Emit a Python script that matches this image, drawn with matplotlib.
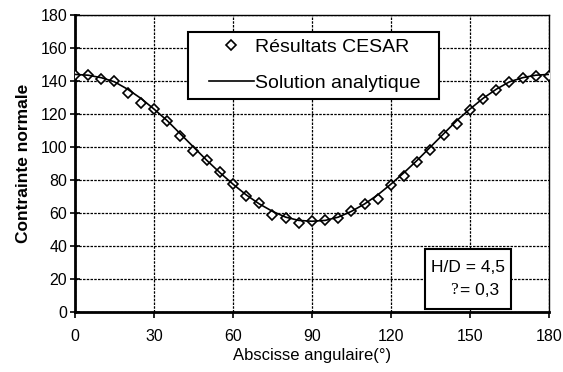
import matplotlib.pyplot as plt
from matplotlib.patches import Rectangle

plt.rcParams['font.family'] = ['Liberation Sans', 'DejaVu Sans']

# angles (deg) and CESAR results
angles = [0, 5, 10, 15, 20, 25, 30, 35, 40, 45, 50, 55, 60, 65, 70, 75, 80, 85, 90,
          95, 100, 105, 110, 115, 120, 125, 130, 135, 140, 145, 150, 155, 160, 165, 170, 175, 180]
cesar = [143.6, 143.6, 141.4, 140.0, 132.9, 126.5, 122.8, 116.0, 106.7, 97.6, 92.0, 85.0, 77.4,
         70.0, 65.9, 58.8, 57.2, 54.1, 55.3, 55.8, 57.2, 61.4, 65.5, 68.3, 77.0, 82.6, 91.0,
         98.2, 107.3, 113.9, 122.4, 128.9, 134.5, 139.6, 142.0, 143.2, 143.2]
# analytical solution, same angles
analytique = [144, 143.5, 142, 139.5, 135, 129.5, 123, 116, 108, 100, 92, 84.5, 77.5,
              71, 65.5, 61, 57.5, 55.5, 55, 55.5, 57.5, 61, 65.5, 71, 77.5, 84.5, 92,
              100, 108, 116, 123, 129.5, 135, 139.5, 142, 143.5, 144]

xticks = [0, 30, 60, 90, 120, 150, 180]
yticks = [0, 20, 40, 60, 80, 100, 120, 140, 160, 180]

fig = plt.figure(figsize=(5.63, 3.72), dpi=100)
ax = fig.add_axes([0.1332, 0.1613, 0.975 - 0.1332, 0.9597 - 0.1613])

ax.plot(angles, cesar, linestyle='none', marker='D', ms=4.6, mfc='white',
        mec='black', mew=1.2, label='Résultats CESAR', zorder=3)
ax.plot(angles, analytique, color='black', lw=1.2, label='Solution analytique', zorder=4)

ax.set_xlim(0, 180)
ax.set_ylim(0, 180)
ax.set_xticks(xticks)
ax.set_yticks(yticks)
ax.grid(True, color='black', linestyle=(0, (2, 1)), linewidth=0.9)
ax.set_axisbelow(True)

for s in ['left', 'bottom']:
    ax.spines[s].set_linewidth(2)
for s in ['top', 'right']:
    ax.spines[s].set_linewidth(1)
ax.tick_params(axis='y', direction='inout', length=7, width=1.2, labelsize=11.5, pad=2)
ax.tick_params(axis='x', direction='out', length=4, width=1.2, labelsize=11.5, pad=8)

ax.set_xlabel('Abscisse angulaire(°)', fontsize=12, labelpad=3)
ax.set_ylabel('Contrainte normale', fontsize=12.5, fontweight='bold', labelpad=7)

# legend frame drawn by hand (wider side padding than matplotlib's)
ax.add_patch(Rectangle((0.2384, 0.717), 0.5296, 0.226, transform=ax.transAxes,
                       fc='white', ec='black', lw=1.5, zorder=7))
leg = ax.legend(loc='center left', bbox_to_anchor=(0.2827, 0.8316), fontsize=14,
                frameon=False, handlelength=2.3, labelspacing=0.95, borderpad=0,
                handletextpad=0.05, borderaxespad=0)
leg.set_zorder(8)

# parameter box
ax.add_patch(Rectangle((132.9, 1.8), 32.7, 36.4, fc='white', ec='black', lw=1.5,
                       zorder=5, clip_on=False))
ax.text(149.3, 26.7, 'H/D = 4,5', ha='center', va='center', fontsize=12.5, zorder=6)
ax.text(144.0, 13.6, '?', ha='center', va='center', fontsize=12.5,
        family='Liberation Serif', zorder=6)
ax.text(153.8, 13.3, '= 0,3', ha='center', va='center', fontsize=12.5, zorder=6)

fig.savefig('out.png', dpi=100)
